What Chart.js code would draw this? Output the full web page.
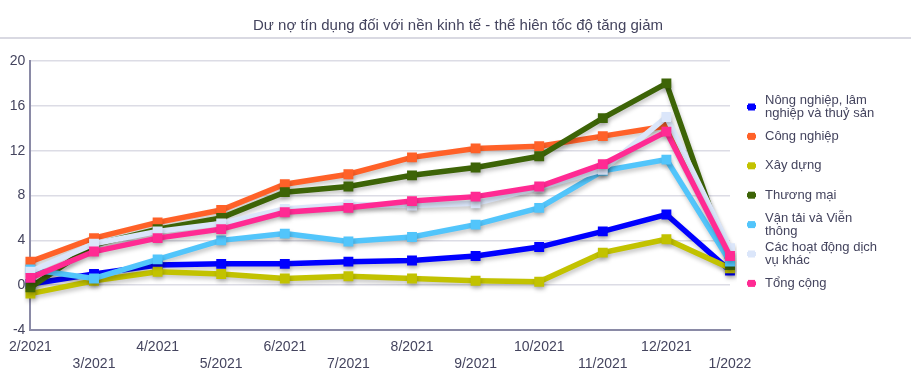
<!DOCTYPE html>
<html>
<head>
<meta charset="utf-8">
<script src="https://cdn.jsdelivr.net/npm/chart.js@4/dist/chart.umd.min.js"></script>
<style>
  html, body { margin: 0; padding: 0; background: #fff; }
  #wrap { position: relative; width: 911px; height: 391px; }
</style>
</head>
<body>
<div id="wrap"><canvas id="chart"></canvas></div>
<script>
const title = "Dư nợ tín dụng đối với nền kinh tế - thể hiên tốc độ tăng giảm";

const months = ["2/2021", "3/2021", "4/2021", "5/2021", "6/2021", "7/2021",
  "8/2021", "9/2021", "10/2021", "11/2021", "12/2021", "1/2022"];

const yTicks = [-4, 0, 4, 8, 12, 16, 20];

const seriesNames = ["Nông nghiệp, lâm nghiệp và thuỷ sản", "Công nghiệp", "Xây dựng",
  "Thương mại", "Vận tải và Viễn thông", "Các hoạt động dịch vụ khác", "Tổng cộng"];

const nongNghiep = [0.1, 1.0, 1.8, 1.9, 1.9, 2.1, 2.2, 2.6, 3.4, 4.8, 6.3, 1.3];
const congNghiep = [2.1, 4.2, 5.6, 6.7, 9.0, 9.9, 11.4, 12.2, 12.4, 13.3, 14.2, 2.6];
const xayDung = [-0.75, 0.4, 1.2, 1.0, 0.6, 0.8, 0.6, 0.4, 0.3, 2.9, 4.1, 1.5];
const thuongMai = [-0.2, 3.6, 5.0, 6.0, 8.3, 8.8, 9.8, 10.5, 11.5, 14.9, 18.0, 1.8];
const vanTai = [1.4, 0.6, 2.3, 4.0, 4.6, 3.9, 4.3, 5.4, 6.9, 10.2, 11.2, 2.1];
const dichVuKhac = [1.2, 3.7, 4.8, 5.5, 6.8, 7.2, 7.1, 7.3, 8.7, 10.3, 15.0, 3.3];
const tongCong = [0.65, 3.0, 4.2, 5.0, 6.5, 6.9, 7.5, 7.9, 8.8, 10.8, 13.7, 2.6];

const seriesValues = [nongNghiep, congNghiep, xayDung, thuongMai, vanTai, dichVuKhac, tongCong];
const colors = ["#0000ff", "#ff6128", "#c2c200", "#3d6407", "#52c5fb", "#dbe6fa", "#ff2a93"];

const textColor = "#44445e";
const font = "Liberation Sans, Arial, sans-serif";

// soft drop shadow under the lines
const shadowPlugin = {
  id: "shadow",
  beforeDatasetsDraw(chart) {
    const ctx = chart.ctx;
    ctx.save();
    ctx.shadowColor = "rgba(0,0,0,0.22)";
    ctx.shadowBlur = 4;
    ctx.shadowOffsetX = 1;
    ctx.shadowOffsetY = 3;
  },
  afterDatasetsDraw(chart) {
    chart.ctx.restore();
  }
};

// title and separator line
const titlePlugin = {
  id: "topTitle",
  afterDraw(chart) {
    const ctx = chart.ctx;
    ctx.save();
    ctx.strokeStyle = "#d9d9e2";
    ctx.lineWidth = 2;
    ctx.beginPath();
    ctx.moveTo(0, 38);
    ctx.lineTo(chart.width, 38);
    ctx.stroke();
    ctx.fillStyle = textColor;
    ctx.font = "15px " + font;
    ctx.textAlign = "center";
    ctx.textBaseline = "middle";
    ctx.fillText(title, 458, 26);
    ctx.restore();
  }
};

function wrapText(ctx, text, maxW) {
  const words = text.split(" ");
  const lines = [];
  let cur = "";
  for (const w of words) {
    const t = cur ? cur + " " + w : w;
    if (ctx.measureText(t).width > maxW && cur) {
      lines.push(cur);
      cur = w;
    } else cur = t;
  }
  if (cur) lines.push(cur);
  return lines;
}

// legend on the right, wrapped like the original
const legendPlugin = {
  id: "sideLegend",
  afterDraw(chart) {
    const ctx = chart.ctx;
    const x0 = chart.chartArea.right + 17;
    let y = 107;
    ctx.save();
    ctx.font = "13px " + font;
    ctx.textBaseline = "middle";
    chart.data.datasets.forEach((ds, i) => {
      ctx.fillStyle = ds.borderColor;
      ctx.fillRect(x0, y - 2, 9, 4);
      ctx.fillRect(x0 + 1, y - 3.5, 7, 7);
      ctx.fillStyle = textColor;
      const lines = wrapText(ctx, ds.label, 120);
      const lh = 13;
      lines.forEach((ln, k) => {
        ctx.fillText(ln, x0 + 18, y + (k - (lines.length - 1) / 2) * lh);
      });
      y += 29.4;
    });
    ctx.restore();
  }
};

const datasets = seriesNames.map((name, i) => ({
  label: name,
  data: seriesValues[i],
  borderColor: colors[i],
  backgroundColor: colors[i],
  borderWidth: 5.5,
  pointStyle: "rect",
  pointRadius: 7,
  pointHoverRadius: 7,
  pointBorderWidth: 0,
  tension: 0,
  order: seriesNames.length - i
}));

new Chart(document.getElementById("chart"), {
  type: "line",
  data: { labels: months, datasets },
  options: {
    responsive: true,
    maintainAspectRatio: false,
    animation: false,
    layout: { padding: { top: 61, right: 181, left: 0, bottom: 0 } },
    plugins: {
      legend: { display: false },
      title: { display: false },
      tooltip: { enabled: false }
    },
    scales: {
      x: {
        grid: { display: false, drawTicks: false },
        border: { color: "#8a8aa6", width: 2 },
        ticks: {
          color: textColor,
          font: { family: font, size: 14 },
          padding: 9,
          maxRotation: 0,
          autoSkip: false,
          callback(v, i) { return i % 2 === 0 ? months[i] : ["", months[i]]; }
        },
        afterFit(s) { s.height = 61; }
      },
      y: {
        min: yTicks[0],
        max: yTicks[yTicks.length - 1],
        afterBuildTicks(s) { s.ticks = yTicks.map(v => ({ value: v })); },
        grid: { color: "#dcdce5", lineWidth: 1.5, drawTicks: false },
        border: { color: "#8a8aa6", width: 2 },
        ticks: {
          color: textColor,
          font: { family: font, size: 14 },
          padding: 5
        },
        afterFit(s) { s.width = 29; }
      }
    }
  },
  plugins: [shadowPlugin, titlePlugin, legendPlugin]
});
</script>
</body>
</html>
